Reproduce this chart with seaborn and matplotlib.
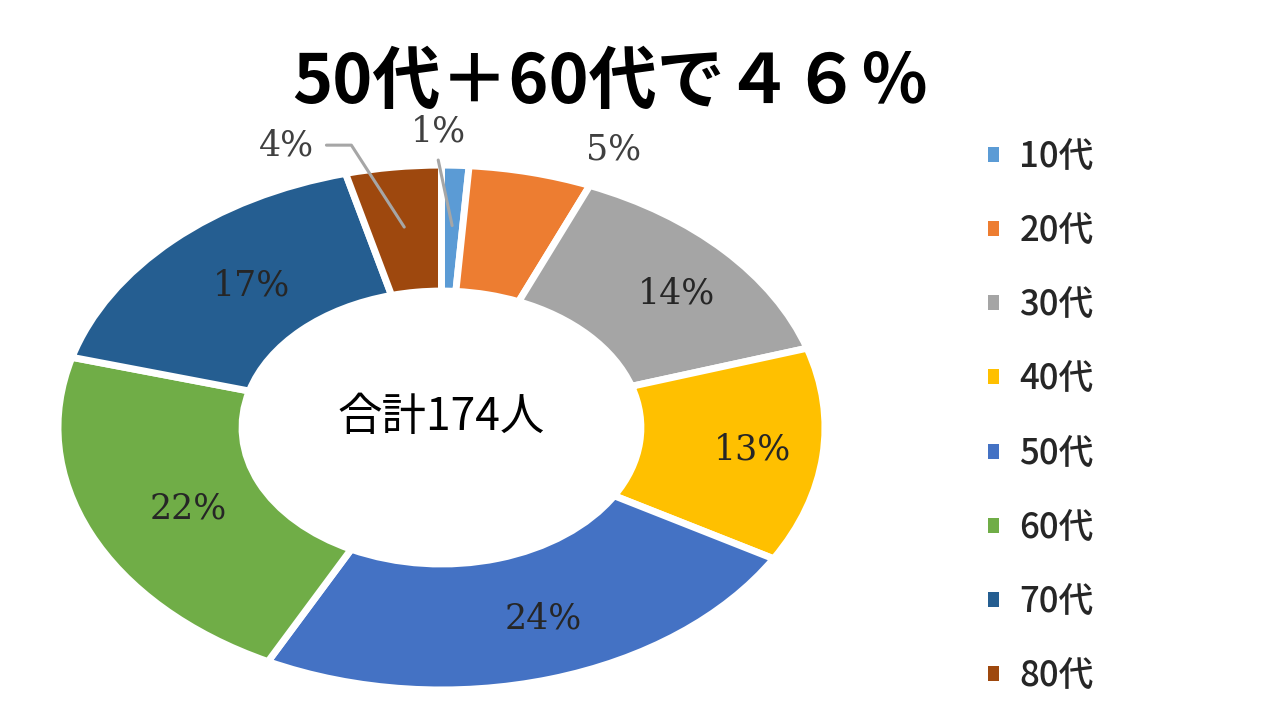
import numpy as np
import matplotlib.pyplot as plt
import seaborn as sns
from matplotlib.patches import Patch

# data
ages = ['10代', '20代', '30代', '40代', '50代', '60代', '70代', '80代']
counts = [2, 9, 24, 23, 42, 38, 29, 7]
colors = ['#5B9BD5', '#ED7D31', '#A5A5A5', '#FFC000',
          '#4472C4', '#70AD47', '#255E91', '#9E480E']
title = '50代＋60代で４６％'
total = sum(counts)
total_label = f'合計{total}人'
pct_labels = [f'{round(100 * c / total)}%' for c in counts]

# small slices get their label outside the ring (nudge in axes units)
outside_nudge = {'10代': (-0.05, 0.0), '20代': (0.18, -0.04), '80代': (-0.26, -0.045)}
leader = {'10代': 'up', '80代': 'elbow'}

sns.set_theme(style='white')
plt.rcParams['font.family'] = ['Noto Sans CJK JP', 'DejaVu Sans']

fig = plt.figure(figsize=(12.8, 7.2), dpi=100)
ax = fig.add_axes([0.0453, 0.0417, 0.5992, 0.729])

wedges, _ = ax.pie(counts, colors=colors, startangle=90, counterclock=False,
                   radius=1, wedgeprops=dict(width=0.48, edgecolor='white', linewidth=5))
ax.set_aspect('auto')
ax.set_xlim(-1, 1)
ax.set_ylim(-1, 1)
ax.axis('off')

serif = ['DejaVu Serif']
for w, age, lab in zip(wedges, ages, pct_labels):
    mid = np.deg2rad((w.theta1 + w.theta2) / 2)
    if age in outside_nudge:
        dx, dy = outside_nudge[age]
        tx = 1.15 * np.cos(mid) + dx
        ty = 1.13 * np.sin(mid) + dy
        ax.text(tx, ty, lab, ha='center', va='center', fontsize=25,
                family=serif, color='#404040')
        p0 = (0.77 * np.cos(mid), 0.77 * np.sin(mid))
        if leader.get(age) == 'up':
            ax.plot([p0[0], tx], [p0[1], ty - 0.11], color='#A6A6A6',
                    lw=2.2, clip_on=False, zorder=5)
        elif leader.get(age) == 'elbow':
            ax.plot([p0[0], tx + 0.17, tx + 0.105], [p0[1], ty, ty],
                    color='#A6A6A6', lw=2.2, clip_on=False, zorder=5)
    else:
        ax.text(0.77 * np.cos(mid) + 0.045, 0.76 * np.sin(mid), lab, ha='center',
                va='center', fontsize=25, family=serif, color='#262626')

ax.text(0, 0.04, total_label, ha='center', va='center', fontsize=32, color='black')

fig.text(0.477, 0.885, title, ha='center', va='center', fontsize=49,
         fontweight='bold', color='black')

handles = [Patch(facecolor=c, edgecolor='none') for c in colors]
fig.legend(handles, ages, loc='center left', bbox_to_anchor=(0.772, 0.4215),
           frameon=False, prop=dict(size=25, weight='medium'),
           handlelength=0.3, handleheight=0.28, handletextpad=0.6,
           labelspacing=1.1, borderpad=0, borderaxespad=0)

fig.savefig('out.png', dpi=100)
